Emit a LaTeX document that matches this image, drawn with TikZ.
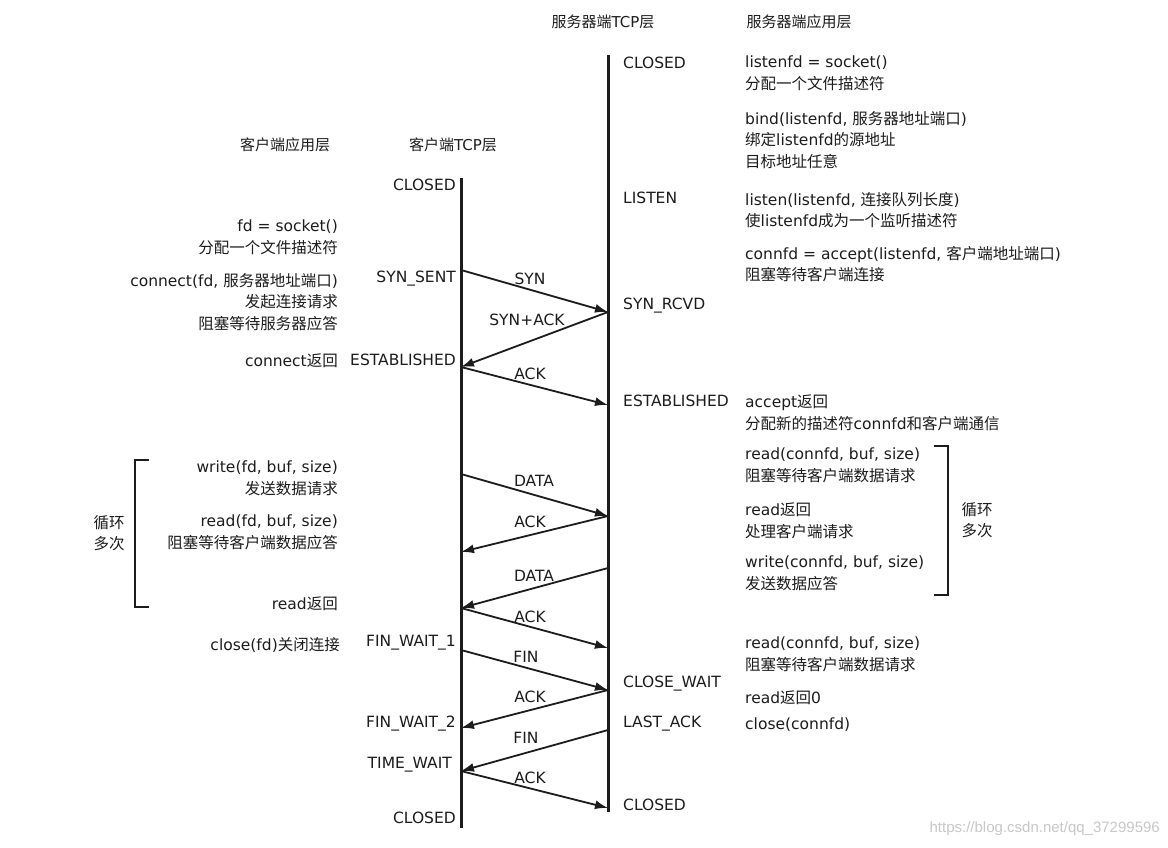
\documentclass[tikz,border=0pt]{standalone}
\usepackage{fontspec}
\setmainfont{DejaVu Sans}
\newfontfamily\cjkfont{Noto Sans CJK SC}
\newfontfamily\wmfont{Liberation Sans}
\XeTeXinterchartokenstate=1
\newXeTeXintercharclass\cjkcls
\newcount\cjkcnt
\cjkcnt="4E00
\loop
  \XeTeXcharclass\cjkcnt=\cjkcls
  \ifnum\cjkcnt<"9FFF \advance\cjkcnt by 1 \repeat
\XeTeXinterchartoks 0 \cjkcls = {\cjkfont}
\XeTeXinterchartoks 4095 \cjkcls = {\cjkfont}
\XeTeXinterchartoks \cjkcls 0 = {\rmfamily}
\XeTeXinterchartoks \cjkcls 4095 = {\rmfamily}
\usetikzlibrary{arrows.meta}
\definecolor{ink}{HTML}{1C1C1C}
\definecolor{wm}{HTML}{C8C8C8}
\begin{document}
\begin{tikzpicture}[x=1pt,y=-1pt,
  txt/.style={inner sep=0pt, font=\fontsize{15.5}{21.5}\selectfont, text=ink},
  lft/.style={txt, align=left, anchor=north west, yshift=-2pt},
  rgt/.style={txt, align=right, anchor=north east, yshift=-2pt},
  stl/.style={txt, anchor=west},
  str/.style={txt, anchor=east},
  head/.style={inner sep=0pt, font=\fontsize{15}{18}\selectfont, text=ink},
  timeline/.style={line width=3pt, draw=ink},
  msg/.style={line width=1.8pt, draw=ink, -{Latex[length=13pt,width=9pt]}},
  msglabel/.style={txt},
  bracket/.style={line width=2pt, draw=ink}]
\fill[white] (0,0) rectangle (1168,848);
\path[use as bounding box] (0,0) rectangle (1168,848);

% headers
\node[head] (hsTCP) at (603,22) {服务器端TCP层};
\node[head] (hsApp) at (799,22) {服务器端应用层};
\node[head] (hcApp) at (285,145) {客户端应用层};
\node[head] (hcTCP) at (453,145) {客户端TCP层};

% timelines
\coordinate (ctop) at (461,178);
\coordinate (cbot) at (461,828);
\coordinate (stop) at (608,55);
\coordinate (sbot) at (608,812);
\draw[timeline] (ctop) -- (cbot);
\draw[timeline] (stop) -- (sbot);

% server states
\node[stl] (sClosed) at (623,63) {CLOSED};
\node[stl] (sListen) at (623,198) {LISTEN};
\node[stl] (sSynRcvd) at (623,306) {SYN\_RCVD};
\node[stl] (sEst) at (623,401) {ESTABLISHED};
\node[stl] (sCloseWait) at (623,684) {CLOSE\_WAIT};
\node[stl] (sLastAck) at (623,724) {LAST\_ACK};
\node[stl] (sClosed2) at (623,805) {CLOSED};

% client states
\node[str] (cClosed) at (456,185) {CLOSED};
\node[str] (cSynSent) at (456,279) {SYN\_SENT};
\node[str] (cEst) at (456,360) {ESTABLISHED};
\node[str] (cFw1) at (456,643) {FIN\_WAIT\_1};
\node[str] (cFw2) at (456,724) {FIN\_WAIT\_2};
\node[str] (cTw) at (452,765) {TIME\_WAIT};
\node[str] (cClosed2) at (456,818) {CLOSED};

% server application text
\node[lft] (sa1) at (745,54) {listenfd = socket()\\分配一个文件描述符};
\node[lft] (sa2) at (745,109) {bind(listenfd, 服务器地址端口)\\绑定listenfd的源地址\\目标地址任意};
\node[lft] (sa3) at (745,190) {listen(listenfd, 连接队列长度)\\使listenfd成为一个监听描述符};
\node[lft] (sa4) at (745,244) {connfd = accept(listenfd, 客户端地址端口)\\阻塞等待客户端连接};
\node[lft] (sa5) at (745,393) {accept返回\\分配新的描述符connfd和客户端通信};
\node[lft] (sa6) at (745,446) {read(connfd, buf, size)\\阻塞等待客户端数据请求};
\node[lft] (sa7) at (745,501) {read返回\\处理客户端请求};
\node[lft] (sa8) at (745,554) {write(connfd, buf, size)\\发送数据应答};
\node[lft] (sa9) at (745,635) {read(connfd, buf, size)\\阻塞等待客户端数据请求};
\node[lft] (sa10) at (745,689) {read返回0};
\node[lft] (sa11) at (745,716) {close(connfd)};

% client application text
\node[rgt] (ca1) at (338,218) {fd = socket()\\分配一个文件描述符};
\node[rgt] (ca2) at (338,271) {connect(fd, 服务器地址端口)\\发起连接请求\\阻塞等待服务器应答};
\node[rgt] (ca3) at (338,352) {connect返回};
\node[rgt] (ca4) at (338,459) {write(fd, buf, size)\\发送数据请求};
\node[rgt] (ca5) at (338,513) {read(fd, buf, size)\\阻塞等待客户端数据应答};
\node[rgt] (ca6) at (338,595) {read返回};
\node[rgt] (ca7) at (340,635) {close(fd)关闭连接};

% loop brackets
\coordinate (lb1) at (149,460);
\coordinate (lb2) at (135,460);
\coordinate (lb3) at (135,607);
\coordinate (lb4) at (149,607);
\draw[bracket] (lb1) -- (lb2) -- (lb3) -- (lb4);
\node[txt, align=center] (loopL) at (109,533) {循环\\多次};
\coordinate (rb1) at (934,446);
\coordinate (rb2) at (948,446);
\coordinate (rb3) at (948,595);
\coordinate (rb4) at (934,595);
\draw[bracket] (rb1) -- (rb2) -- (rb3) -- (rb4);
\node[txt, align=center] (loopR) at (977,520) {循环\\多次};

% message endpoints
\coordinate (cSyn) at (461,270);
\coordinate (sSyn) at (608,312);
\coordinate (cEstP) at (461,367);
\coordinate (sEstP) at (608,405);
\coordinate (cD1) at (461,474);
\coordinate (sD1) at (608,516);
\coordinate (cA1) at (461,552);
\coordinate (sD2) at (608,568);
\coordinate (cD2) at (461,608);
\coordinate (sA2) at (608,648);
\coordinate (cF1) at (461,650);
\coordinate (sCw) at (608,690);
\coordinate (cA3) at (461,728);
\coordinate (sLa) at (608,730);
\coordinate (cTwP) at (461,771);
\coordinate (sCl) at (608,808);

\draw[msg] (cSyn) -- (sSyn);
\draw[msg] (sSyn) -- (cEstP);
\draw[msg] (cEstP) -- (sEstP);
\draw[msg] (cD1) -- (sD1);
\draw[msg] (sD1) -- (cA1);
\draw[msg] (sD2) -- (cD2);
\draw[msg] (cD2) -- (sA2);
\draw[msg] (cF1) -- (sCw);
\draw[msg] (sCw) -- (cA3);
\draw[msg] (sLa) -- (cTwP);
\draw[msg] (cTwP) -- (sCl);

% message labels
\node[msglabel] (lSyn) at (530,279) {SYN};
\node[msglabel] (lSynAck) at (527,320) {SYN+ACK};
\node[msglabel] (lAck1) at (530,374) {ACK};
\node[msglabel] (lData1) at (534,481) {DATA};
\node[msglabel] (lAck2) at (530,522) {ACK};
\node[msglabel] (lData2) at (534,576) {DATA};
\node[msglabel] (lAck3) at (530,617) {ACK};
\node[msglabel] (lFin1) at (526,657) {FIN};
\node[msglabel] (lAck4) at (530,697) {ACK};
\node[msglabel] (lFin2) at (526,738) {FIN};
\node[msglabel] (lAck5) at (530,778) {ACK};

% watermark
\node[inner sep=0pt, anchor=east, font=\wmfont\fontsize{15}{18}\selectfont, text=wm] (wmark) at (1160,829) {https://blog.csdn.net/qq\_37299596};
\end{tikzpicture}
\end{document}
